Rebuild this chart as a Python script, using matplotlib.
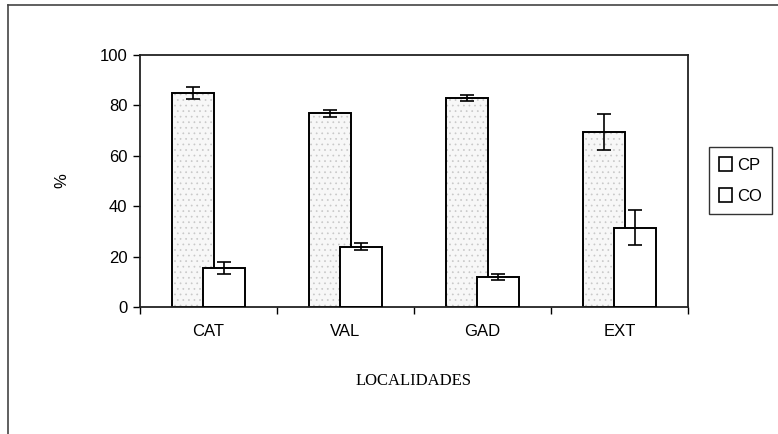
import matplotlib
matplotlib.use("Agg")
import matplotlib.pyplot as plt
import numpy as np
from matplotlib.patches import Patch
from matplotlib.lines import Line2D

# --- datos ---
localidades = ["CAT", "VAL", "GAD", "EXT"]
cp_vals = [85.0, 76.8, 83.0, 69.5]
cp_err = [2.5, 1.5, 1.2, 7.0]
co_vals = [15.5, 24.0, 12.0, 31.5]
co_err = [2.3, 1.3, 1.2, 6.8]
series = ["CP", "CO"]

BAR_W = 0.307
OFFSET = 0.113

plt.rcParams['font.family'] = ['Liberation Sans', 'DejaVu Sans']

fig = plt.figure(figsize=(7.78, 4.34), dpi=100)
ax = fig.add_axes([140 / 778, 1 - 307 / 434, 548 / 778, 252 / 434])

x = np.arange(len(localidades)) + 0.5

# barras CP: relleno punteado gris claro y contorno negro encima
plt.rcParams['hatch.linewidth'] = 0.5
ax.bar(x - OFFSET, cp_vals, BAR_W, facecolor='#f7f7f7', edgecolor='#c8c8c8',
       linewidth=0, hatch='...', zorder=2)
ax.bar(x - OFFSET, cp_vals, BAR_W, facecolor='none', edgecolor='black',
       linewidth=1.4, zorder=2.5)
ax.bar(x + OFFSET, co_vals, BAR_W, facecolor='white', edgecolor='black',
       linewidth=1.4, zorder=3)

ax.errorbar(x - OFFSET, cp_vals, yerr=cp_err, fmt='none', ecolor='black',
            elinewidth=1.2, capsize=5, capthick=1.2, zorder=4)
ax.errorbar(x + OFFSET, co_vals, yerr=co_err, fmt='none', ecolor='black',
            elinewidth=1.2, capsize=5, capthick=1.2, zorder=4)

ax.set_xlim(0, len(localidades))
ax.set_ylim(0, 100)
ax.set_yticks(np.arange(0, 101, 20))
ax.tick_params(axis='y', direction='out', length=5, width=1, labelsize=12, pad=4)

# marcas en los limites de cada categoria, etiquetas en el centro
ax.set_xticks(np.arange(0, len(localidades) + 1))
ax.set_xticklabels([])
ax.set_xticks(x, minor=True)
ax.set_xticklabels(localidades, minor=True)
ax.tick_params(axis='x', which='major', direction='out', length=5, width=1)
ax.tick_params(axis='x', which='minor', length=0, labelsize=12, pad=12)

for s in ax.spines.values():
    s.set_linewidth(1.3)
    s.set_color('#222222')

ax.set_ylabel('%', fontsize=12, labelpad=22)
fig.text(414 / 778, 1 - 381 / 434, 'LOCALIDADES', family='Liberation Serif',
         fontsize=12, ha='center', va='center')

handles = [Patch(facecolor='white', edgecolor='black', linewidth=1.2, label=s)
           for s in series]
leg = fig.legend(handles=handles, loc='center', fontsize=12,
                 bbox_to_anchor=(740.5 / 778, 1 - 180.5 / 434),
                 frameon=True, fancybox=False, handlelength=0.8,
                 handleheight=0.9, handletextpad=0.3, labelspacing=0.9,
                 borderpad=0.6, borderaxespad=0)
leg.get_frame().set_edgecolor('black')
leg.get_frame().set_linewidth(1.0)

# marco exterior del grafico
fig.add_artist(Line2D([8 / 778, 8 / 778], [0, 1 - 5 / 434], color='#444444', lw=1.2))
fig.add_artist(Line2D([8 / 778, 1], [1 - 5 / 434, 1 - 5 / 434], color='#444444', lw=1.2))

fig.savefig('out.png', dpi=100)
